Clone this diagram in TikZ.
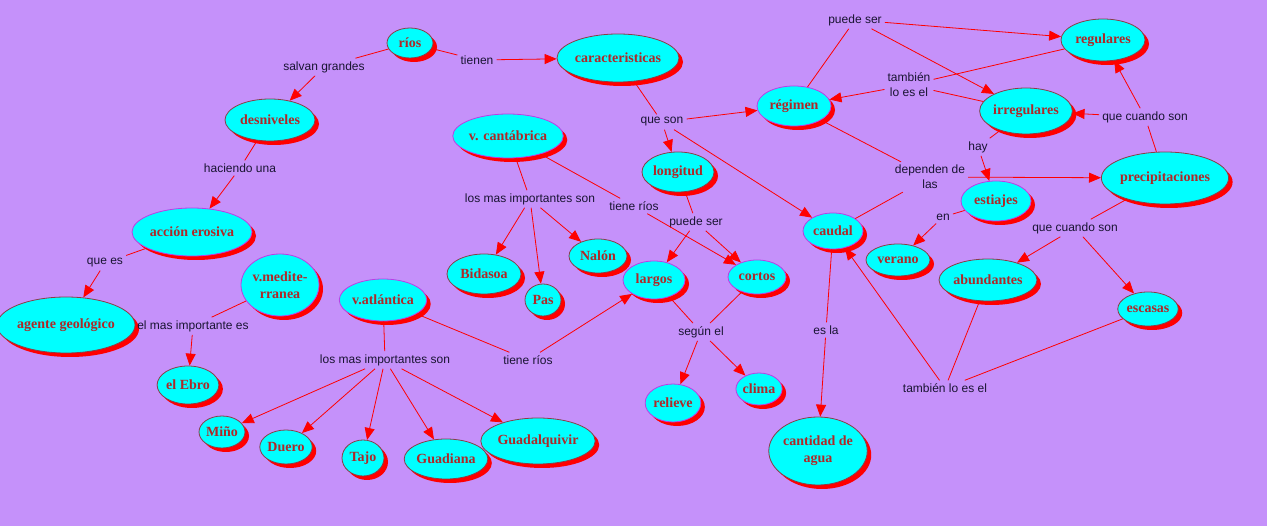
\documentclass[tikz,border=0pt]{standalone}
\usepackage{fontspec}
\setmainfont{Liberation Serif}
\newfontfamily\labelfont{Liberation Sans}
\usetikzlibrary{shapes.geometric,shadows,arrows.meta}
\definecolor{fondo}{RGB}{197,145,250}
\definecolor{celeste}{RGB}{0,255,255}
\definecolor{sombra}{RGB}{255,0,0}
\definecolor{texto}{RGB}{175,40,40}
\definecolor{borde}{RGB}{140,60,70}
\definecolor{bordem}{RGB}{190,60,230}
\definecolor{letra}{RGB}{25,20,50}
\tikzset{
concepto/.style={ellipse,fill=celeste,draw=borde,line width=0.8pt,text=texto,font=\fontsize{14}{17}\selectfont\bfseries,inner sep=0pt,align=center,drop shadow={shadow xshift=4pt,shadow yshift=-4pt,fill=sombra,opacity=1}},
conceptom/.style={concepto,draw=bordem},
enlace/.style={font=\labelfont\fontsize{12}{15}\selectfont,text=letra,align=center,inner sep=3pt},
linea/.style={draw=sombra,line width=0.8pt},
flecha/.style={linea,-{Triangle[length=12pt,width=10pt]}}
}

\begin{document}
\begin{tikzpicture}[x=1pt,y=-1pt]
\fill[fondo](0,0)rectangle(1267,526);
\useasboundingbox (0,0) rectangle (1267,526);
% conceptos
\node (rios) at (410,43) [concepto][minimum width=46,minimum height=30]{ríos};
\node (caract) at (618,58) [concepto][minimum width=116,minimum height=48]{caracteristicas};
\node (desniv) at (270,120) [concepto][minimum width=90,minimum height=42]{desniveles};
\node (accion) at (192,232) [conceptom][minimum width=120,minimum height=48]{acción erosiva};
\node (agente) at (66,325) [concepto][minimum width=132,minimum height=56]{agente geológico};
\node (vmedi) at (280,285) [conceptom][minimum width=78,minimum height=62]{v.medite-\\rranea};
\node (ebro) at (188,385) [concepto][minimum width=56,minimum height=38]{el Ebro};
\node (vatl) at (383,300) [conceptom][minimum width=74,minimum height=42]{v.atlántica};
\node (mino) at (222,432) [concepto][minimum width=46,minimum height=32]{Miño};
\node (duero) at (286,447) [concepto][minimum width=52,minimum height=34]{Duero};
\node (tajo) at (363,458) [concepto][minimum width=42,minimum height=36]{Tajo};
\node (guadiana) at (446,459) [concepto][minimum width=70,minimum height=40]{Guadiana};
\node (guadal) at (538,441) [concepto][minimum width=88,minimum height=46]{Guadalquivir};
\node (vcant) at (508,136) [conceptom][minimum width=104,minimum height=44]{v. cantábrica};
\node (bidasoa) at (484,274) [concepto][minimum width=74,minimum height=40]{Bidasoa};
\node (pas) at (543,300) [concepto][minimum width=36,minimum height=32]{Pas};
\node (nalon) at (598,256) [concepto][minimum width=58,minimum height=34]{Nalón};
\node (longitud) at (678,172) [concepto][minimum width=72,minimum height=40]{longitud};
\node (largos) at (654,280) [conceptom][minimum width=62,minimum height=38]{largos};
\node (cortos) at (757,277) [conceptom][minimum width=58,minimum height=34]{cortos};
\node (relieve) at (673,403) [conceptom][minimum width=54,minimum height=38]{relieve};
\node (clima) at (759,389) [conceptom][minimum width=44,minimum height=32]{clima};
\node (regimen) at (794,106) [conceptom][minimum width=74,minimum height=40]{régimen};
\node (caudal) at (833,231) [conceptom][minimum width=60,minimum height=36]{caudal};
\node (cantidad) at (818,451) [concepto][minimum width=86,minimum height=68]{cantidad de\\agua};
\node (regulares) at (1103,40) [concepto][minimum width=84,minimum height=42]{regulares};
\node (irregulares) at (1026,111) [concepto][minimum width=92,minimum height=46]{irregulares};
\node (estiajes) at (996,201) [conceptom][minimum width=70,minimum height=40]{estiajes};
\node (verano) at (898,260) [concepto][minimum width=64,minimum height=32]{verano};
\node (precip) at (1165,178) [concepto][minimum width=120,minimum height=52]{precipitaciones};
\node (abund) at (988,280) [concepto][minimum width=94,minimum height=42]{abundantes};
\node (escasas) at (1148,309) [concepto][minimum width=58,minimum height=34]{escasas};
% enlaces
\node (salvan) at (324,67) [enlace]{salvan grandes};
\node (tienen) at (477,60) [enlace]{tienen};
\node (haciendo) at (240,168) [enlace]{haciendo una};
\node (quees) at (105,263) [enlace]{que es};
\node (elmas) at (193,326) [enlace]{el mas importante es};
\node (losatl) at (385,360) [enlace]{los mas importantes son};
\node (tieneatl) at (528,360) [enlace]{tiene ríos};
\node (loscant) at (530,199) [enlace]{los mas importantes son};
\node (tienecant) at (634,206) [enlace]{tiene ríos};
\node (queson) at (662,122) [enlace]{que son};
\node (puedelong) at (696,222) [enlace]{puede ser};
\node (segun) at (701,332) [enlace]{según el};
\node (esla) at (826,330) [enlace]{es la};
\node (puedereg) at (855,20) [enlace]{puede ser};
\node (tambreg) at (909,85) [enlace]{también\\lo es el};
\node (hay) at (978,147) [enlace]{hay};
\node (dependen) at (930,177) [enlace]{dependen de\\las};
\node (cuandoreg) at (1145,117) [enlace]{que cuando son};
\node (en) at (943,217) [enlace]{en};
\node (cuandoab) at (1075,228) [enlace]{que cuando son};
\node (tambcaudal) at (945,388) [enlace]{también lo es el};
% conectores
\draw [linea](rios)--(salvan);
\draw [flecha](salvan)--(desniv);
\draw [linea](rios)--(tienen);
\draw [flecha](tienen)--(caract);
\draw [linea](desniv)--(haciendo);
\draw [flecha](haciendo)--(accion);
\draw [linea](accion)--(quees);
\draw [flecha](quees)--(agente);
\draw [linea](vmedi)--(elmas);
\draw [flecha](elmas)--(ebro);
\draw [linea](vatl)--(losatl);
\foreach \r in {mino,duero,tajo,guadiana,guadal}
  \draw [flecha](losatl)--(\r);
\draw [linea](vatl)--(tieneatl);
\draw [flecha](tieneatl)--(largos);
\draw [linea](vcant)--(loscant);
\foreach \r in {bidasoa,pas,nalon}
  \draw [flecha](loscant)--(\r);
\draw [linea](vcant)--(tienecant);
\draw [flecha](tienecant)--(cortos);
\draw [linea](caract)--(queson);
\foreach \r in {longitud,regimen,caudal}
  \draw [flecha](queson)--(\r);
\draw [linea](longitud)--(puedelong);
\draw [flecha](puedelong)--(largos);
\draw [flecha](puedelong)--(cortos);
\draw [linea](largos)--(segun);
\draw [linea](cortos)--(segun);
\draw [flecha](segun)--(relieve);
\draw [flecha](segun)--(clima);
\draw [linea](caudal)--(esla);
\draw [flecha](esla)--(cantidad);
\draw [linea](regimen)--(puedereg);
\draw [flecha](puedereg)--(regulares);
\draw [flecha](puedereg)--(irregulares);
\draw [linea](regulares)--(tambreg);
\draw [linea](irregulares)--(tambreg);
\draw [flecha](tambreg)--(regimen);
\draw [linea](irregulares)--(hay);
\draw [flecha](hay)--(estiajes);
\draw [linea](regimen)--(dependen);
\draw [linea](caudal)--(dependen);
\draw [flecha](dependen)--(precip);
\draw [linea](precip)--(cuandoreg);
\draw [flecha](cuandoreg)--(regulares);
\draw [flecha](cuandoreg)--(irregulares);
\draw [linea](estiajes)--(en);
\draw [flecha](en)--(verano);
\draw [linea](precip)--(cuandoab);
\draw [flecha](cuandoab)--(abund);
\draw [flecha](cuandoab)--(escasas);
\draw [linea](abund)--(tambcaudal);
\draw [linea](escasas)--(tambcaudal);
\draw [flecha](tambcaudal)--(caudal);
\end{tikzpicture}
\end{document}
